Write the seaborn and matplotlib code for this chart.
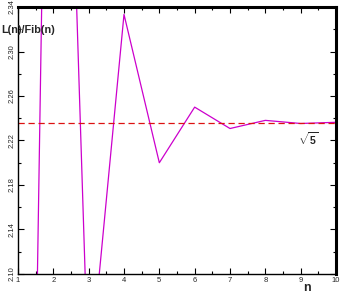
import numpy as np
import pandas as pd
import matplotlib
matplotlib.use("Agg")
import matplotlib.pyplot as plt
import seaborn as sns
from matplotlib.ticker import MultipleLocator

n_vals = [1, 2, 3, 4, 5, 6, 7, 8, 9, 10]
lucas = [1, 3, 4, 7, 11, 18, 29, 47, 76, 123]
fib = [1, 1, 2, 3, 5, 8, 13, 21, 34, 55]
ratio = [l / f for l, f in zip(lucas, fib)]
sqrt5 = 5 ** 0.5

df = pd.DataFrame({"n": n_vals, "ratio": ratio})

sns.set_style("ticks")
plt.rcParams['font.family'] = ['Liberation Sans', 'DejaVu Sans']
plt.rcParams['mathtext.fontset'] = 'custom'
plt.rcParams['mathtext.rm'] = 'Liberation Sans:bold'
plt.rcParams['mathtext.bf'] = 'Liberation Sans:bold'

fig = plt.figure(figsize=(3.49, 2.95), dpi=100)
ax = fig.add_axes([18/349, 1 - 274/295, (336-18)/349, (274-7)/295])

sns.lineplot(data=df, x="n", y="ratio", ax=ax, color="#CC00CC", linewidth=0.9)
ax.axhline(sqrt5, color="#DD1111", linestyle=(0, (5, 3)), linewidth=0.9)

ax.set_xlim(1, 10)
ax.set_ylim(2.10, 2.34)
ax.xaxis.set_major_locator(MultipleLocator(1))
ax.xaxis.set_minor_locator(MultipleLocator(0.5))
ax.yaxis.set_minor_locator(MultipleLocator(0.02))
ax.set_yticks([2.10, 2.14, 2.18, 2.22, 2.26, 2.30, 2.34])
ax.set_yticklabels(["2.10", "2.14", "2.18", "2.22", "2.26", "2.30", "2.34"],
                   rotation=90, va="center")
ax.set_xticks(n_vals)
ax.set_xticklabels([str(v) for v in n_vals])

ax.tick_params(which="both", direction="in", top=True, right=True,
               labelsize=5.5, pad=2, color="black", width=0.8)
ax.tick_params(which="major", length=4)
ax.tick_params(which="minor", length=2)

for side in ["left", "bottom"]:
    ax.spines[side].set_linewidth(1.0)
for side in ["top", "right"]:
    ax.spines[side].set_linewidth(2.2)
for s in ax.spines.values():
    s.set_color("black")

ax.set_xlabel("")
ax.set_ylabel("")
fig.text(1/349, 1 - 30/295, "L(n)/Fib(n)", fontsize=7.8, fontweight="bold",
         ha="left", va="center")
fig.text(307/349, 1 - 288/295, "n", fontsize=9, fontweight="bold",
         ha="center", va="center")
ax.text(9.2, 2.222, r"$\sqrt{5}$", fontsize=7.5, ha="center", va="center")

fig.savefig("out.png", dpi=100)
